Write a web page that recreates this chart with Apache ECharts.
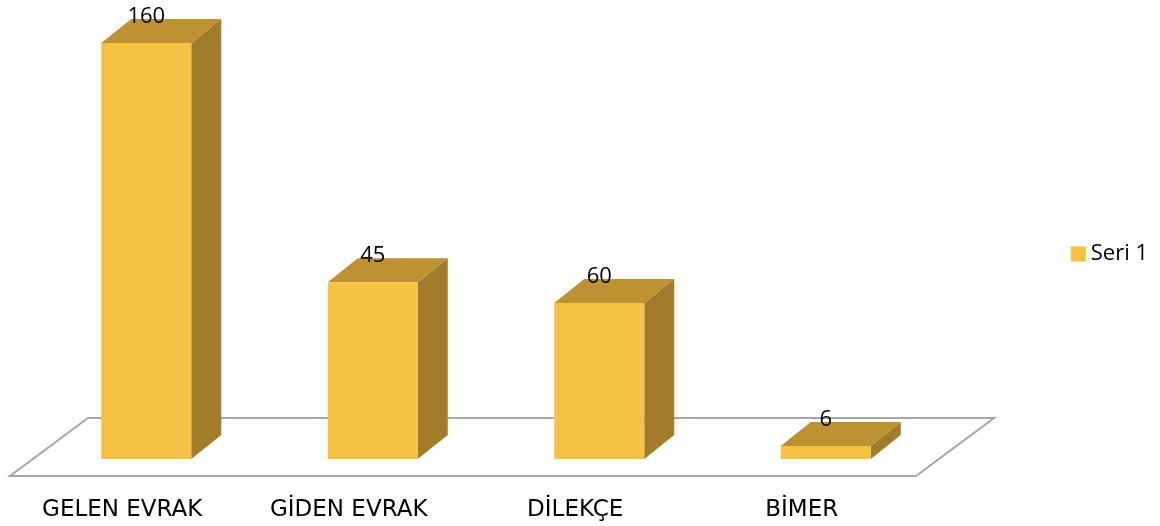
<!DOCTYPE html>
<html>
<head>
<meta charset="utf-8">
<script src="https://cdn.jsdelivr.net/npm/echarts@6/dist/echarts.min.js"></script>
<style>
  html, body { margin: 0; padding: 0; background: #fff; }
  #chart { width: 1160px; height: 526px; }
</style>
</head>
<body>
<div id="chart"></div>
<script>
const categories = ['GELEN EVRAK', 'GİDEN EVRAK', 'DİLEKÇE', 'BİMER'];
// bar heights as drawn, and the numbers printed above them
const values = [160, 68, 60, 5];
const valueLabels = ['160', '45', '60', '6'];
const seriesName = 'Seri 1';

const FRONT = '#F5C242';
const TOP = '#BD9332';
const SIDE = '#A07C2B';

const chart = echarts.init(document.getElementById('chart'), null, { renderer: 'canvas' });

function renderFloor(params, api) {
  const cs = params.coordSys;
  const base = api.coord([0, 0])[1];
  const x0 = cs.x + 1, x1 = cs.x + cs.width + 1;
  const yf = base + 17, yb = base - 41;
  return {
    type: 'polygon',
    shape: { points: [[x0, yf], [x1, yf], [x1 + 78, yb], [x0 + 78, yb]] },
    style: { fill: '#fff', stroke: '#A6A6A6', lineWidth: 2 }
  };
}

function renderBar(params, api) {
  const idx = api.value(0);
  const bottom = api.coord([idx, 0]);
  const top = api.coord([idx, api.value(1)]);
  const cx = bottom[0] + 24;
  const l = cx - 45, r = cx + 45;
  const yb = bottom[1], yt = top[1];
  const dx = 30, dy = -24;
  return {
    type: 'group',
    children: [
      { type: 'polygon', shape: { points: [[r, yt], [r + dx, yt + dy], [r + dx, yb + dy], [r, yb]] }, style: { fill: SIDE } },
      { type: 'polygon', shape: { points: [[l, yt], [r, yt], [r + dx, yt + dy], [l + dx, yt + dy]] }, style: { fill: TOP } },
      { type: 'rect', shape: { x: l, y: yt, width: r - l, height: yb - yt }, style: { fill: FRONT } },
      { type: 'text', x: cx, y: yt - 26, style: { text: valueLabels[params.dataIndex], fill: '#000', font: '22px "Open Sans"', align: 'center', verticalAlign: 'middle' } }
    ]
  };
}

const option = {
  animation: false,
  legend: {
    data: [seriesName],
    right: 7,
    top: 238,
    icon: 'rect',
    itemWidth: 15,
    itemHeight: 15,
    itemGap: 6,
    textStyle: { fontSize: 22, color: '#000', fontFamily: 'Open Sans' }
  },
  grid: { left: 9, right: 245, top: 43, bottom: 67 },
  xAxis: {
    type: 'category',
    data: categories,
    axisLine: { show: false },
    axisTick: { show: false },
    axisLabel: { margin: 40, fontSize: 23, color: '#000', fontFamily: 'DejaVu Sans' }
  },
  yAxis: {
    type: 'value',
    min: 0,
    max: 160,
    show: false,
    splitLine: { show: false }
  },
  series: [
    {
      name: 'floor',
      type: 'custom',
      silent: true,
      renderItem: renderFloor,
      data: [[0, 0]],
      z: 1
    },
    {
      name: seriesName,
      type: 'custom',
      itemStyle: { color: FRONT },
      renderItem: renderBar,
      encode: { x: 0, y: 1 },
      data: values.map((v, i) => [i, v]),
      z: 2
    }
  ]
};
chart.setOption(option);
</script>
</body>
</html>
